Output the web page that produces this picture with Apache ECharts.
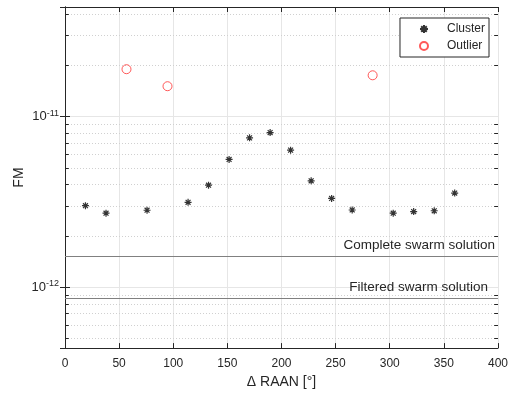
<!DOCTYPE html>
<html>
<head>
<meta charset="utf-8">
<script src="https://cdn.jsdelivr.net/npm/echarts@6/dist/echarts.min.js"></script>
<style>
  html, body { margin: 0; padding: 0; background: #fff; }
  #chart { width: 511px; height: 394px; }
</style>
</head>
<body>
<div id="chart"></div>
<script>
// cluster points (ΔRAAN in deg, FM)
const clusterX = [18.9, 37.9, 75.8, 113.7, 132.6, 151.6, 170.5, 189.5, 208.4, 227.4, 246.3, 265.3, 303.2, 322.1, 341.1, 360];
const clusterY = [3.01e-12, 2.72e-12, 2.83e-12, 3.15e-12, 3.97e-12, 5.62e-12, 7.52e-12, 8.08e-12, 6.37e-12, 4.21e-12, 3.32e-12, 2.84e-12, 2.72e-12, 2.78e-12, 2.81e-12, 3.57e-12];
// outliers
const outlierX = [56.8, 94.7, 284.2];
const outlierY = [1.90e-11, 1.51e-11, 1.75e-11];
// reference solutions
const solutionNames = ['Complete swarm solution', 'Filtered swarm solution'];
const solutionValues = [1.52e-12, 8.57e-13];
// minor log grid lines
const minorGrid = [5e-13, 6e-13, 7e-13, 8e-13, 9e-13, 2e-12, 3e-12, 4e-12, 5e-12, 6e-12, 7e-12, 8e-12, 9e-12, 2e-11, 3e-11, 4e-11];

const textColor = '#262626';
const asterisk = 'path://M5 0L5 10M0 5L10 5M1.5 1.5L8.5 8.5M8.5 1.5L1.5 8.5';

const chart = echarts.init(document.getElementById('chart'));

const supLabel = (v) => {
  const e = Math.round(Math.log10(v));
  return '{b|10}{s|' + e + '}';
};

// dotted minor grid + short minor ticks on both sides
const marks = [];
minorGrid.forEach((v) => {
  marks.push([
    { coord: [0, v], lineStyle: { color: '#d0d0d0', type: [1, 2], width: 1 } },
    { coord: [400, v] },
  ]);
});
minorGrid.forEach((v) => {
  marks.push([
    { coord: [0, v], lineStyle: { color: textColor, type: 'solid', width: 1 } },
    { coord: [3.5, v] },
  ]);
  marks.push([
    { coord: [396.5, v], lineStyle: { color: textColor, type: 'solid', width: 1 } },
    { coord: [400, v] },
  ]);
});
solutionValues.forEach((v, i) => {
  marks.push([
    {
      coord: [0, v],
      lineStyle: { color: '#808080', type: 'solid', width: 1 },
      label: {
        show: true,
        formatter: solutionNames[i],
        position: 'insideEndTop',
        distance: [i === 0 ? 3 : 10, 4],
        color: textColor,
        fontSize: 13.5,
        fontFamily: 'Liberation Sans',
      },
    },
    { coord: [400, v] },
  ]);
});

const yAxisBase = {
  type: 'log',
  logBase: 10,
  min: 4.4e-13,
  max: 4.4e-11,
  axisLine: { show: true, lineStyle: { color: textColor, width: 1 } },
  axisTick: { show: true, inside: true, length: 5, lineStyle: { color: textColor } },
};

chart.setOption({
  animation: false,
  textStyle: { fontFamily: 'Liberation Sans', color: textColor },
  grid: { left: 65, right: 11, top: 7, bottom: 44 },
  legend: {
    data: ['Cluster', 'Outlier'],
    orient: 'vertical',
    right: 22,
    top: 18,
    backgroundColor: '#fff',
    borderColor: textColor,
    borderWidth: 1,
    padding: [5, 4, 5, 19],
    itemGap: 5,
    itemWidth: 14,
    itemHeight: 8,
    textStyle: { fontSize: 12, color: textColor, fontFamily: 'Liberation Sans', padding: [0, 0, 0, 11] },
  },
  xAxis: [
    {
      type: 'value',
      min: 0,
      max: 400,
      interval: 50,
      name: 'Δ RAAN [°]',
      nameLocation: 'middle',
      nameGap: 26,
      nameTextStyle: { fontSize: 14, color: textColor },
      axisLine: { show: true, lineStyle: { color: textColor, width: 1 } },
      axisTick: { show: true, inside: true, length: 5, lineStyle: { color: textColor } },
      axisLabel: { fontSize: 12, color: textColor, margin: 10 },
      splitLine: { show: true, lineStyle: { color: '#e6e6e6', width: 1 } },
    },
    {
      type: 'value',
      position: 'top',
      min: 0,
      max: 400,
      interval: 50,
      axisLine: { show: true, lineStyle: { color: textColor, width: 1 } },
      axisTick: { show: true, inside: true, length: 5, lineStyle: { color: textColor } },
      axisLabel: { show: false },
      splitLine: { show: false },
    },
  ],
  yAxis: [
    {
      ...yAxisBase,
      name: 'FM',
      nameLocation: 'middle',
      nameGap: 39,
      nameMoveOverlap: false,
      nameTextStyle: { fontSize: 14, color: textColor },
      axisLabel: {
        formatter: supLabel,
        margin: 6,
        showMinLabel: false,
        showMaxLabel: false,
        rich: {
          b: { fontSize: 13, color: textColor, fontFamily: 'Liberation Sans' },
          s: { fontSize: 9, color: textColor, fontFamily: 'Liberation Sans', verticalAlign: 'top', padding: [0, 0, 7, 0] },
        },
      },
      splitLine: { show: true, showMinLine: false, showMaxLine: false, lineStyle: { color: '#e6e6e6', width: 1 } },
    },
    {
      ...yAxisBase,
      position: 'right',
      axisLabel: { show: false },
      splitLine: { show: false },
    },
  ],
  series: [
    {
      name: 'Cluster',
      type: 'scatter',
      symbol: asterisk,
      symbolSize: 7,
      itemStyle: { color: '#000', borderColor: '#000', borderWidth: 1.2 },
      data: clusterX.map((x, i) => [x, clusterY[i]]),
      z: 5,
      markLine: {
        silent: true,
        symbol: 'none',
        animation: false,
        label: { show: false },
        z: 1,
        data: marks,
      },
    },
    {
      name: 'Outlier',
      type: 'scatter',
      symbol: 'circle',
      symbolSize: 9,
      itemStyle: { color: 'rgba(255,255,255,0)', borderColor: '#ff3030', borderWidth: 1 },
      data: outlierX.map((x, i) => [x, outlierY[i]]),
      z: 5,
    },
  ],
});
</script>
</body>
</html>
